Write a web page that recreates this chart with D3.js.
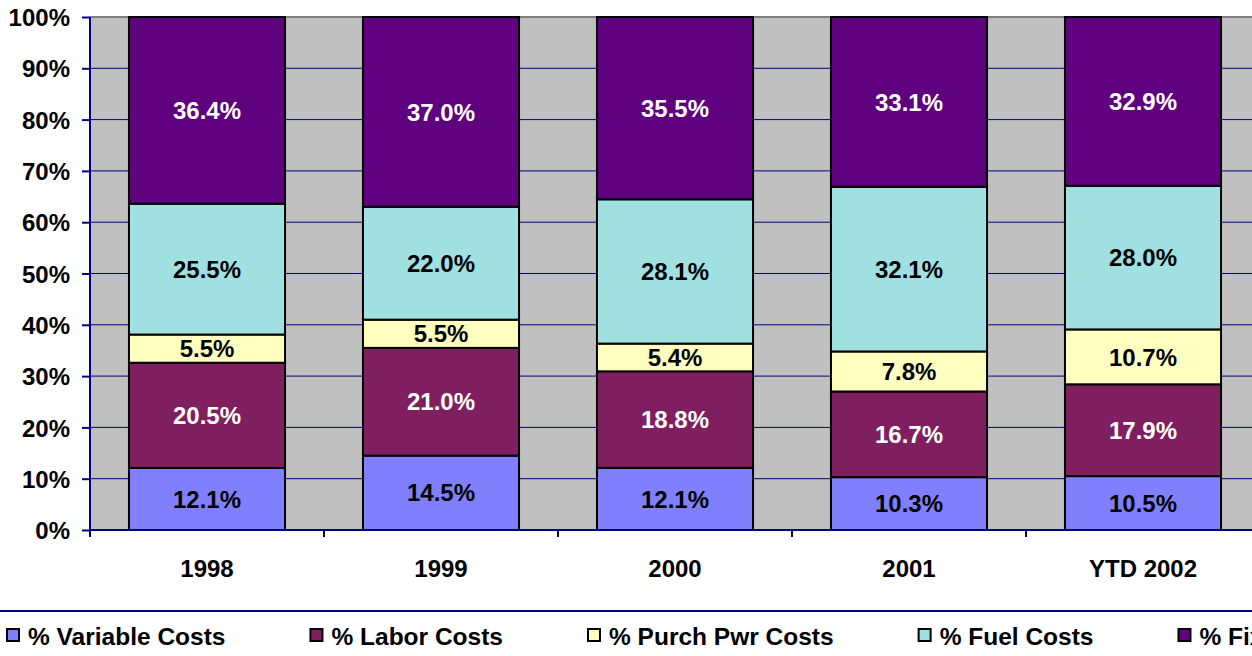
<!DOCTYPE html>
<html>
<head>
<meta charset="utf-8">
<script src="https://cdn.jsdelivr.net/npm/d3@7"></script>
<style>
  body { margin: 0; background: #fff; }
  text { font-family: "Liberation Sans", Arial, sans-serif; font-weight: bold; }
</style>
</head>
<body>
<div id="chart"></div>
<script>
const years = ["1998", "1999", "2000", "2001", "YTD 2002"];
const seriesNames = ["% Variable Costs", "% Labor Costs", "% Purch Pwr Costs", "% Fuel Costs", "% Fixed Costs"];
const variableCosts = [12.1, 14.5, 12.1, 10.3, 10.5];
const laborCosts = [20.5, 21.0, 18.8, 16.7, 17.9];
const purchPwrCosts = [5.5, 5.5, 5.4, 7.8, 10.7];
const fuelCosts = [25.5, 22.0, 28.1, 32.1, 28.0];
const fixedCosts = [36.4, 37.0, 35.5, 33.1, 32.9];
const yTicks = [0, 0.1, 0.2, 0.3, 0.4, 0.5, 0.6, 0.7, 0.8, 0.9, 1];

const colors = ["#8080ff", "#7f1f5f", "#ffffc0", "#a0e0e0", "#5f007f"];
const labelColors = ["#000", "#fff", "#000", "#000", "#fff"];

const W = 1252, H = 656;
const margin = {top: 17, left: 90, bottom: 530};
const plotRight = 1260;

const allSeries = [variableCosts, laborCosts, purchPwrCosts, fuelCosts, fixedCosts];
const rows = years.map((yr, i) => {
  const r = {year: yr};
  seriesNames.forEach((s, j) => r[s] = allSeries[j][i]);
  return r;
});

const stacked = d3.stack().keys(seriesNames).offset(d3.stackOffsetExpand)(rows);

const x = d3.scaleBand().domain(years).range([margin.left, plotRight])
  .paddingInner(0.333).paddingOuter(0.1665);
const y = d3.scaleLinear().domain([0, 1]).range([margin.bottom, margin.top]);

const svg = d3.select("#chart").append("svg")
  .attr("width", W).attr("height", H);

// plot background
svg.append("rect")
  .attr("x", margin.left).attr("y", margin.top)
  .attr("width", plotRight - margin.left).attr("height", margin.bottom - margin.top)
  .attr("fill", "#c0c0c0");

// gridlines
svg.append("g").selectAll("line")
  .data(yTicks.filter(d => d > 0 && d < 1))
  .enter().append("line")
  .attr("x1", margin.left).attr("x2", plotRight)
  .attr("y1", d => y(d)).attr("y2", d => y(d))
  .attr("stroke", "#000080").attr("stroke-width", 1);

svg.append("line")
  .attr("x1", margin.left).attr("x2", plotRight)
  .attr("y1", y(1)).attr("y2", y(1))
  .attr("stroke", "#808080").attr("stroke-width", 2);

// bars
const layers = svg.append("g").selectAll("g")
  .data(stacked)
  .enter().append("g")
  .attr("fill", (d, i) => colors[i]);

layers.selectAll("rect")
  .data(d => d)
  .enter().append("rect")
  .attr("x", d => x(d.data.year))
  .attr("width", x.bandwidth())
  .attr("y", d => y(d[1]))
  .attr("height", d => y(d[0]) - y(d[1]))
  .attr("stroke", "#000").attr("stroke-width", 2);

// data labels
svg.append("g").selectAll("g")
  .data(stacked)
  .enter().append("g")
  .attr("fill", (d, i) => labelColors[i])
  .each(function(layer) {
    d3.select(this).selectAll("text")
      .data(layer)
      .enter().append("text")
      .attr("x", d => x(d.data.year) + x.bandwidth() / 2)
      .attr("y", d => y((d[0] + d[1]) / 2))
      .attr("dy", "0.36em")
      .attr("text-anchor", "middle")
      .style("font-size", "24px")
      .text(d => d.data[layer.key].toFixed(1) + "%");
  });

// y axis
const yAxis = d3.axisLeft(y).tickValues(yTicks).tickFormat(d3.format(".0%"))
  .tickSize(8).tickPadding(12);
const gy = svg.append("g")
  .attr("transform", "translate(" + margin.left + ",0)")
  .call(yAxis);
gy.select(".domain").remove();
gy.selectAll(".tick line").attr("stroke", "#000080").attr("stroke-width", 2);
gy.selectAll(".tick text").attr("fill", "#000").style("font-size", "24px").attr("dy", "0.36em");
svg.append("line")
  .attr("x1", margin.left).attr("x2", margin.left)
  .attr("y1", margin.top).attr("y2", margin.bottom + 6)
  .attr("stroke", "#000080").attr("stroke-width", 2);

// x axis
svg.append("line")
  .attr("x1", margin.left).attr("x2", plotRight)
  .attr("y1", margin.bottom).attr("y2", margin.bottom)
  .attr("stroke", "#000080").attr("stroke-width", 2);
const step = x.step();
svg.append("g").selectAll("line")
  .data(d3.range(years.length + 1))
  .enter().append("line")
  .attr("x1", i => margin.left + i * step).attr("x2", i => margin.left + i * step)
  .attr("y1", margin.bottom).attr("y2", margin.bottom + 7)
  .attr("stroke", "#000080").attr("stroke-width", 2);
svg.append("g").selectAll("text")
  .data(years)
  .enter().append("text")
  .attr("x", d => x(d) + x.bandwidth() / 2)
  .attr("y", 568)
  .attr("dy", "0.36em")
  .attr("text-anchor", "middle")
  .style("font-size", "24px")
  .text(d => d);

// legend
svg.append("line")
  .attr("x1", 0).attr("x2", W)
  .attr("y1", 611).attr("y2", 611)
  .attr("stroke", "#000080").attr("stroke-width", 2);

const legend = svg.append("g");
let lx = 7;
seriesNames.forEach((name, i) => {
  legend.append("rect")
    .attr("x", lx).attr("y", 629)
    .attr("width", 12).attr("height", 12)
    .attr("fill", colors[i]).attr("stroke", "#000").attr("stroke-width", 2);
  const t = legend.append("text")
    .attr("x", lx + 21).attr("y", 645)
    .style("font-size", "24.5px")
    .text(name);
  lx += 21 + t.node().getComputedTextLength() + 85;
});
</script>
</body>
</html>
